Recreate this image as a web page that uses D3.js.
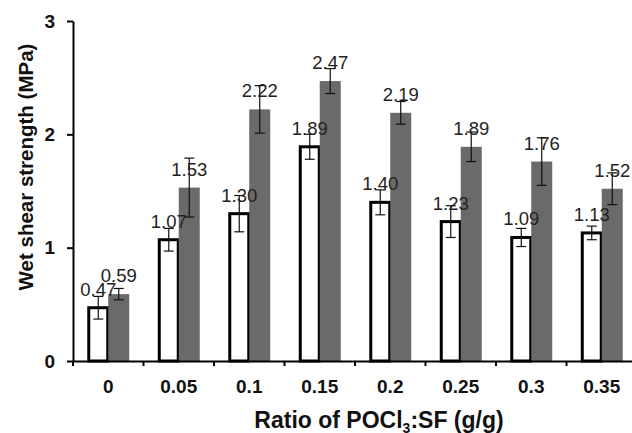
<!DOCTYPE html>
<meta charset="utf-8">
<script src="https://d3js.org/d3.v7.min.js"></script>
<style>
  body { margin: 0; background: #fff; }
  text { font-family: Arial, "Liberation Sans", sans-serif; }
</style>
<div id="chart"></div>
<script>
  // ratio of POCl3:SF and wet shear strength (MPa) for the two series
  var categories = ["0", "0.05", "0.1", "0.15", "0.2", "0.25", "0.3", "0.35"];
  var plainValues = [0.47, 1.07, 1.30, 1.89, 1.40, 1.23, 1.09, 1.13];
  var plainErrors = [0.10, 0.10, 0.16, 0.11, 0.11, 0.14, 0.08, 0.06];
  var filledValues = [0.59, 1.53, 2.22, 2.47, 2.19, 1.89, 1.76, 1.52];
  var filledErrors = [0.05, 0.26, 0.21, 0.11, 0.10, 0.13, 0.21, 0.14];
  var yTicks = [0, 1, 2, 3];

  var width = 632, height = 433;
  var plotLeft = 73, plotRight = 637, plotTop = 21, plotBottom = 361;

  var svg = d3.select("#chart")
    .append("svg")
      .attr("width", width)
      .attr("height", height);

  var x0 = d3.scaleBand()
    .domain(categories)
    .range([plotLeft, plotRight])
    .padding(0);

  var x1 = d3.scaleBand()
    .domain(["plain", "filled"])
    .range([0, x0.bandwidth()])
    .paddingInner(0)
    .paddingOuter(0.68);

  var y = d3.scaleLinear()
    .domain([0, 3])
    .range([plotBottom, plotTop]);

  // rows for drawing
  var rows = [];
  categories.forEach(function(c, i) {
    rows.push({cat: c, key: "plain", value: plainValues[i], err: plainErrors[i]});
    rows.push({cat: c, key: "filled", value: filledValues[i], err: filledErrors[i]});
  });

  // bars
  svg.selectAll("rect.bar")
    .data(rows)
    .enter()
    .append("rect")
      .attr("class", "bar")
      .attr("x", function(d) { return x0(d.cat) + x1(d.key) + (d.key == "plain" ? 1.5 : 0); })
      .attr("y", function(d) { return y(d.value); })
      .attr("width", function(d) { return x1.bandwidth() - (d.key == "plain" ? 2 : 0); })
      .attr("height", function(d) { return y(0) - y(d.value); })
      .attr("fill", function(d) { return d.key == "plain" ? "#fff" : "#6a6a6a"; })
      .attr("stroke", function(d) { return d.key == "plain" ? "#000" : "none"; })
      .attr("stroke-width", 3);

  // error bars
  var cx = function(d) { return x0(d.cat) + x1(d.key) + x1.bandwidth() / 2 + (d.key == "plain" ? 0.5 : 0); };
  var eb = svg.selectAll("g.err")
    .data(rows)
    .enter()
    .append("g")
      .attr("class", "err")
      .attr("stroke", "#111")
      .attr("stroke-width", 1.2);
  eb.append("line")
    .attr("x1", cx).attr("x2", cx)
    .attr("y1", function(d) { return y(d.value + d.err); })
    .attr("y2", function(d) { return y(d.value - d.err); });
  eb.append("line")
    .attr("x1", function(d) { return cx(d) - 5; })
    .attr("x2", function(d) { return cx(d) + 5; })
    .attr("y1", function(d) { return y(d.value + d.err); })
    .attr("y2", function(d) { return y(d.value + d.err); });
  eb.append("line")
    .attr("x1", function(d) { return cx(d) - 5; })
    .attr("x2", function(d) { return cx(d) + 5; })
    .attr("y1", function(d) { return y(d.value - d.err); })
    .attr("y2", function(d) { return y(d.value - d.err); });

  // value labels
  svg.selectAll("text.val")
    .data(rows)
    .enter()
    .append("text")
      .attr("class", "val")
      .attr("x", cx)
      .attr("y", function(d) { return y(d.value) - 12; })
      .attr("text-anchor", "middle")
      .attr("font-size", "18.5px")
      .attr("fill", "#222")
      .text(function(d) { return d.value.toFixed(2); });

  // y axis
  var yAxis = svg.append("g")
    .attr("transform", "translate(" + plotLeft + ",0)")
    .call(d3.axisLeft(y).tickValues(yTicks).tickFormat(d3.format("d")).tickSize(6).tickSizeOuter(0).tickPadding(12));
  yAxis.selectAll("text").attr("font-size", "19px").attr("font-weight", "bold").attr("fill", "#111");
  yAxis.selectAll("line, path").attr("stroke", "#000").attr("stroke-width", 2);

  // x axis: labels in band centres, ticks at band edges
  var xAxis = svg.append("g")
    .attr("transform", "translate(0," + plotBottom + ")")
    .call(d3.axisBottom(x0).tickSize(0).tickSizeOuter(0).tickPadding(19));
  xAxis.selectAll("text").attr("font-size", "19px").attr("font-weight", "bold").attr("fill", "#111");
  xAxis.select("path").attr("stroke", "#000").attr("stroke-width", 2);
  xAxis.selectAll("line.edge")
    .data(categories)
    .enter()
    .append("line")
      .attr("class", "edge")
      .attr("x1", function(d) { return x0(d); })
      .attr("x2", function(d) { return x0(d); })
      .attr("y1", 0)
      .attr("y2", 5)
      .attr("stroke", "#000")
      .attr("stroke-width", 2);

  // titles
  svg.append("text")
    .attr("transform", "translate(33,167) rotate(-90)")
    .attr("text-anchor", "middle")
    .attr("font-size", "20.5px")
    .attr("font-weight", "bold")
    .attr("fill", "#111")
    .text("Wet shear strength (MPa)");

  var xt = svg.append("text")
    .attr("x", 379)
    .attr("y", 428)
    .attr("text-anchor", "middle")
    .attr("font-size", "23px")
    .attr("font-weight", "bold")
    .attr("fill", "#111");
  xt.append("tspan").text("Ratio of POCl");
  xt.append("tspan").attr("font-size", "14px").attr("dy", 5).text("3");
  xt.append("tspan").attr("dy", -5).text(":SF (g/g)");
</script>
